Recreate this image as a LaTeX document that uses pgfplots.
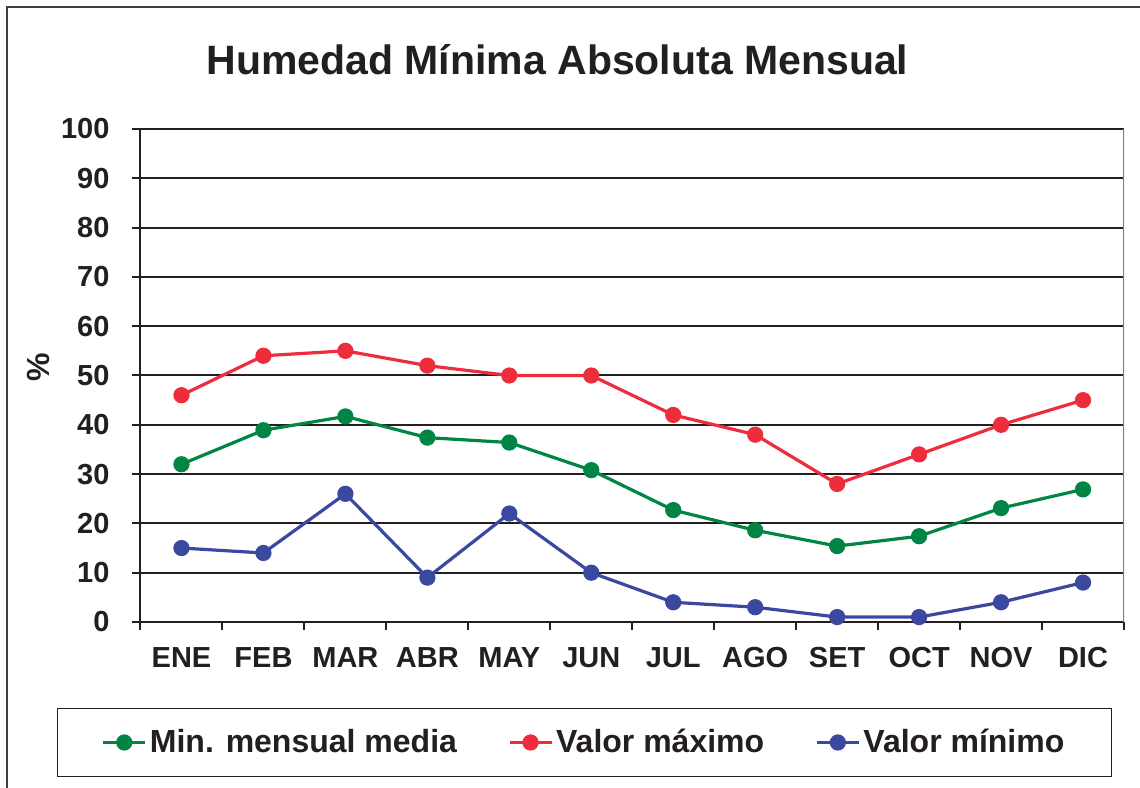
\documentclass[border=0pt]{standalone}
\usepackage{fontspec}
\setmainfont{Liberation Sans}
\usepackage{pgfplots}
\pgfplotsset{compat=1.18}
\definecolor{cgreen}{RGB}{0,133,68}
\definecolor{cred}{RGB}{238,45,60}
\definecolor{cblue}{RGB}{58,72,160}
\definecolor{gridc}{RGB}{35,31,32}
\begin{document}
\begin{tikzpicture}
\useasboundingbox (-70.25pt,-82.5pt) rectangle (499.75pt,311pt);
\draw[line width=1pt, black!75] (-66.75pt,-83pt) -- (-66.75pt,307.5pt) -- (500pt,307.5pt);
\begin{axis}[
  at={(0pt,0pt)}, anchor=south west,
  scale only axis, width=491.75pt, height=246.5pt,
  xmin=-0.5, xmax=11.5, ymin=0, ymax=100,
  xtick={-0.5,0.5,1.5,2.5,3.5,4.5,5.5,6.5,7.5,8.5,9.5,10.5,11.5},
  x tick label as interval,
  xticklabels={ENE,FEB,MAR,ABR,MAY,JUN,JUL,AGO,SET,OCT,NOV,DIC},
  ytick={0,10,...,100},
  axis x line*=bottom, axis y line*=left,
  tick align=outside, major tick length=4pt,
  tick style={line width=1pt, color=gridc},
  ymajorgrids, grid style={line width=1pt, color=gridc},
  axis line style={line width=1pt, color=gridc},
  ticklabel style={font=\fontsize{14.5}{16}\selectfont\bfseries, text=gridc},
  xticklabel style={yshift=-5pt},
  yticklabel style={xshift=-8pt},
  /pgf/number format/assume math mode=true,
  title={Humedad Mínima Absoluta Mensual},
  title style={font=\fontsize{20.5}{24}\selectfont\bfseries, text=gridc, at={(axis description cs:0.424,1.116)}, anchor=center},
  ylabel={\%},
  ylabel style={font=\fontsize{16}{18}\selectfont\bfseries, text=gridc, at={(axis description cs:-0.1042,0.517)}, anchor=center},
  legend columns=3,
  legend style={at={(axis description cs:0.4515,-0.2444)}, anchor=center,
    draw=gridc, line width=0.75pt, inner xsep=22pt, inner ysep=8.5pt,
    font=\fontsize{16}{19}\selectfont\bfseries, text=gridc,
    /tikz/every even column/.append style={column sep=24pt},
    nodes={inner xsep=1.5pt}},
  legend image code/.code={\draw[#1,mark repeat=2,mark phase=2] plot coordinates {(0pt,0pt) (10.5pt,0pt) (21pt,0pt)};},
  every axis plot/.append style={line width=1.6pt, mark=*, mark size=3.25pt},
]
\addplot[color=cgreen, mark options={fill=cgreen, draw=cgreen}] coordinates {
(0,32.0) (1,38.9) (2,41.7) (3,37.4) (4,36.4) (5,30.8) (6,22.7) (7,18.6) (8,15.4) (9,17.4) (10,23.1) (11,26.9)};
\addlegendentry{Min. mensual media}
\addplot[color=cred, mark options={fill=cred, draw=cred}] coordinates {
(0,46) (1,54) (2,55) (3,52) (4,50) (5,50) (6,42) (7,38) (8,28) (9,34) (10,40) (11,45)};
\addlegendentry{Valor máximo}
\addplot[color=cblue, mark options={fill=cblue, draw=cblue}] coordinates {
(0,15) (1,14) (2,26) (3,9) (4,22) (5,10) (6,4) (7,3) (8,1) (9,1) (10,4) (11,8)};
\addlegendentry{Valor mínimo}
\draw[line width=1pt, gray] (rel axis cs:1,0) -- (rel axis cs:1,1);
\end{axis}
\end{tikzpicture}
\end{document}
